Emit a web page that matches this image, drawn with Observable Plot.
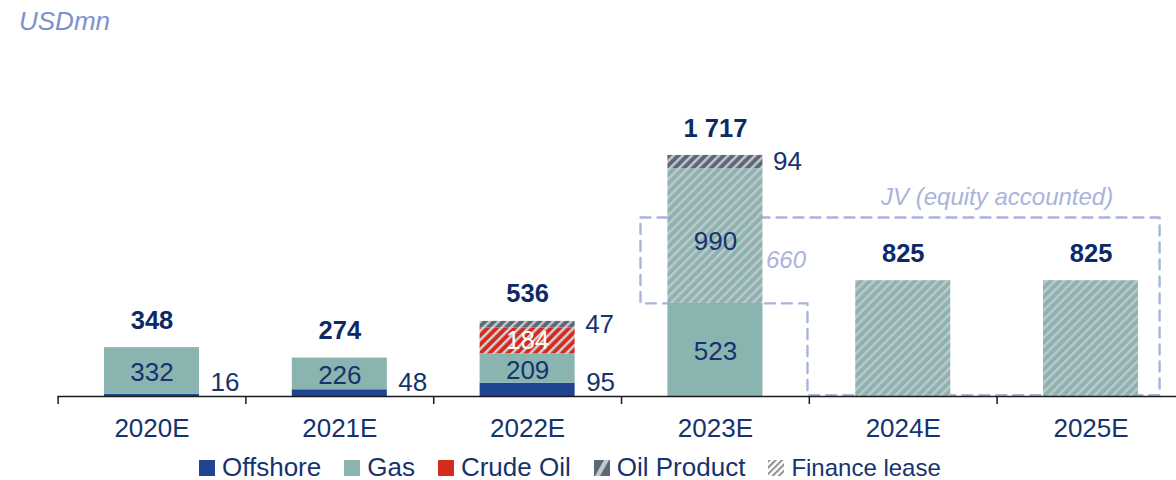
<!DOCTYPE html>
<html>
<head>
<meta charset="utf-8">
<script src="https://cdn.jsdelivr.net/npm/d3@7"></script>
<script src="https://cdn.jsdelivr.net/npm/@observablehq/plot@0.6"></script>
<style>
  html, body { margin: 0; padding: 0; background: #fff; }
  body { width: 1176px; height: 480px; overflow: hidden; font-family: "Liberation Sans", Arial, sans-serif; }
  #title { height: 40px; box-sizing: border-box; padding: 3px 0 0 19px; line-height: 37px; font-size: 26px; font-style: italic; color: #7d90cc; }
  #chart { height: 412px; }
  #legend { height: 28px; box-sizing: border-box; padding-top: 3px; display: flex; align-items: center; padding-left: 199px; font-size: 26px; line-height: 25px; color: #15336e; }
  .item { display: flex; align-items: center; margin-right: 23px; }
  .item svg { margin-right: 7px; flex: none; }
</style>
</head>
<body>
<div id="title"></div>
<div id="chart"></div>
<div id="legend"></div>
<script>
// ---- data (USDmn) ----
const categories = ["2020E", "2021E", "2022E", "2023E", "2024E", "2025E"];
const offshore        = [16, 48, 95, 0, 0, 0];
const gas             = [332, 226, 209, 663, 0, 0];
const crudeOilLease   = [0, 0, 184, 0, 0, 0];
const gasLease        = [0, 0, 0, 960, 825, 825];
const oilProductLease = [0, 0, 47, 94, 0, 0];
const totals          = [348, 274, 536, 1717, 825, 825];

const offshoreLabels   = ["16", "48", "95", "", "", ""];
const gasLabels        = ["332", "226", "209", "523", "", ""];
const crudeLabels      = ["", "", "184", "", "", ""];
const gasLeaseLabels   = ["", "", "", "990", "", ""];
const oilProductLabels = ["", "", "47", "94", "", ""];

const unitLabel = "USDmn";
const jvTitle = "JV (equity accounted)";
const jvLabel = "660";
const jvTop = 1275;           // upper edge of the JV outline, USDmn
const legendItems = ["Offshore", "Gas", "Crude Oil", "Oil Product", "Finance lease"];

// ---- styling ----
const NAVY = "#15336e", NAVY_BOLD = "#0c2a66", LAV = "#a9b4dc";
const HALF = 0.253;           // half bar width in category units
const FONT = '"Liberation Sans", Arial, sans-serif';

const series = [
  {key: "Offshore",    values: offshore,        fill: "#1f4591"},
  {key: "Gas",         values: gas,             fill: "#8ab4af"},
  {key: "Crude Oil",   values: crudeOilLease,   fill: "url(#hatch-red)"},
  {key: "Gas lease",   values: gasLease,        fill: "url(#hatch-teal)"},
  {key: "Oil Product", values: oilProductLease, fill: "url(#hatch-grey)"}
];

const segments = [];
categories.forEach((c, i) => {
  let acc = 0;
  series.forEach(s => {
    const v = s.values[i];
    if (v > 0) segments.push({i, key: s.key, y1: acc, y2: acc + v, fill: s.fill});
    acc += v;
  });
});
const seg = (key, i) => segments.find(d => d.key === key && d.i === i);
const mid = d => (d.y1 + d.y2) / 2;

function labelsFor(key, labels) {
  return labels.map((t, i) => t ? {i, t, s: seg(key, i)} : null).filter(Boolean);
}
const inBar = [
  ...labelsFor("Gas", gasLabels).map(d => ({...d, fill: NAVY, dy: 2})),
  ...labelsFor("Gas lease", gasLeaseLabels).map(d => ({...d, fill: NAVY, dy: 6})),
  ...labelsFor("Crude Oil", crudeLabels).map(d => ({...d, fill: "#ffffff", dy: 0}))
];
const sideOffshore = labelsFor("Offshore", offshoreLabels);
const sideOilProduct = labelsFor("Oil Product", oilProductLabels);

const fmt = d3.formatLocale({decimal: ".", thousands: " ", grouping: [3], currency: ["", ""]}).format(",d");
const totalData = totals.map((v, i) => ({i, v}));

// JV outline, in category/value units
const i23 = categories.indexOf("2023E"), i25 = categories.indexOf("2025E");
const gasTop23 = seg("Gas", i23).y2;
const box = [
  {x: i23 - 0.399, y: jvTop},
  {x: i25 + 0.365, y: jvTop},
  {x: i25 + 0.365, y: 10},
  {x: i23 + 0.49,  y: 10},
  {x: i23 + 0.49,  y: gasTop23},
  {x: i23 - 0.399, y: gasTop23},
  {x: i23 - 0.399, y: jvTop}
];

const idx = d3.range(categories.length);

const plot = Plot.plot({
  width: 1176,
  height: 412,
  marginTop: 75.2,
  marginBottom: 56,
  marginLeft: 57.6,
  marginRight: 0,
  style: {fontFamily: FONT, background: "transparent", overflow: "visible"},
  x: {type: "linear", domain: [-0.5, 5.455]},
  y: {domain: [0, 2000], axis: null},
  color: {type: "identity"},
  marks: [
    Plot.line(box, {x: "x", y: "y", stroke: LAV, strokeWidth: 2.4, strokeDasharray: "10,7", curve: "linear"}),
    Plot.rect(segments, {x1: d => d.i - HALF, x2: d => d.i + HALF, y1: "y1", y2: "y2", fill: "fill"}),
    Plot.ruleY([0], {stroke: "#1a1a1a", strokeWidth: 1.5}),
    Plot.axisX(idx.map(i => i - 0.5), {tickSize: 8, tickFormat: () => "", stroke: "#1a1a1a", strokeWidth: 1.5, label: null}),
    Plot.axisX(idx, {tickSize: 0, tickPadding: 22, tickFormat: i => categories[i], fontSize: 26, color: NAVY, label: null}),
    ...inBar.map(d => Plot.text([d], {x: "i", y: e => mid(e.s), text: "t", fill: d.fill, fontSize: 26, dy: d.dy})),
    Plot.text(sideOffshore, {x: d => d.i + HALF, y: () => 0, dx: 11, dy: -14, text: "t", textAnchor: "start", fill: NAVY, fontSize: 26}),
    Plot.text(sideOilProduct, {x: d => d.i + HALF, y: d => mid(d.s), dx: 10, text: "t", textAnchor: "start", fill: NAVY, fontSize: 26}),
    Plot.text(totalData, {x: "i", y: "v", text: d => fmt(d.v), dy: -27, fill: NAVY_BOLD, fontSize: 25.5, fontWeight: "bold"}),
    Plot.text([jvLabel], {x: i23 + HALF, y: (gasTop23 + jvTop) / 2, text: d => d, dx: 3, textAnchor: "start", fill: LAV, fontSize: 24, fontStyle: "italic"}),
    Plot.text([jvTitle], {x: i25 - 0.5, y: jvTop, text: d => d, dy: -20, fill: LAV, fontSize: 24, fontStyle: "italic"})
  ]
});

// hatch patterns
const ns = "http://www.w3.org/2000/svg";
const defs = document.createElementNS(ns, "defs");
function hatch(id, base, stripe) {
  return `<pattern id="${id}" patternUnits="userSpaceOnUse" width="6.4" height="6.4" patternTransform="rotate(45)">
    <rect width="6.4" height="6.4" fill="${base}"/><rect width="2.5" height="6.4" fill="${stripe}"/></pattern>`;
}
defs.innerHTML = hatch("hatch-teal", "#8ab4af", "#c2c5cc") + hatch("hatch-red", "#d52b1e", "#d0d1d4") + hatch("hatch-grey", "#5d6877", "#c2c5cc");
plot.insertBefore(defs, plot.firstChild);
document.getElementById("chart").appendChild(plot);

document.getElementById("title").textContent = unitLabel;

// legend
const swatches = {
  "Offshore": `<rect width="16" height="16" fill="#1f4591"/>`,
  "Gas": `<rect width="16" height="16" fill="#8ab4af"/>`,
  "Crude Oil": `<rect width="16" height="16" rx="1" fill="#d52b1e"/>`,
  "Oil Product": `<rect width="16" height="16" fill="#5d6877"/><polygon points="10,0 15,0 6,16 1,16" fill="#c3c6cc"/>`,
  "Finance lease": `<defs><pattern id="lg-hatch" patternUnits="userSpaceOnUse" width="4.5" height="4.5" patternTransform="rotate(45)"><rect width="4.5" height="4.5" fill="#ffffff"/><rect width="2" height="4.5" fill="#8e9096"/></pattern></defs><rect width="16" height="16" fill="url(#lg-hatch)"/>`
};
const legend = document.getElementById("legend");
legendItems.forEach(name => {
  const item = document.createElement("div");
  item.className = "item";
  item.innerHTML = `<svg width="16" height="16" viewBox="0 0 16 16">${swatches[name]}</svg><span${name === "Finance lease" ? ' style="font-size:24px"' : ""}>${name}</span>`;
  legend.appendChild(item);
});
</script>
</body>
</html>
